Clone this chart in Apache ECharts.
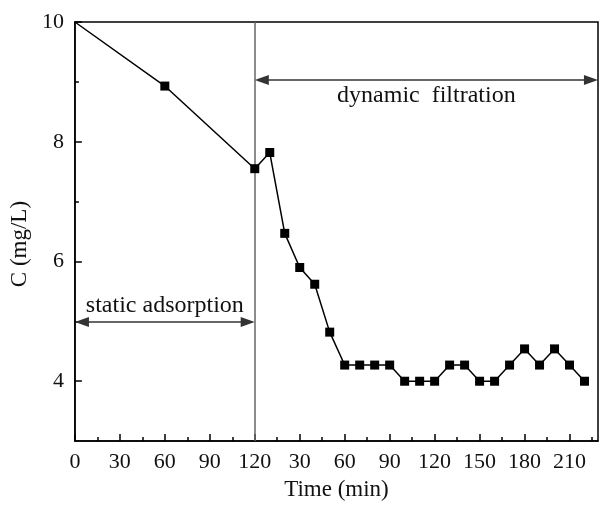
<!DOCTYPE html>
<html>
<head>
<meta charset="utf-8">
<script src="https://cdn.jsdelivr.net/npm/echarts@6/dist/echarts.min.js"></script>
<style>
  html, body { margin: 0; padding: 0; background: #fff; }
  #chart { width: 600px; height: 506px; }
</style>
</head>
<body>
<div id="chart"></div>
<script>
// Static adsorption stage (time in min from start)
const staticTime = [0, 60, 120];
const staticConc = [10.0, 8.93, 7.55];

// Dynamic filtration stage (time in min from start of filtration)
const dynamicTime = [0, 10, 20, 30, 40, 50, 60, 70, 80, 90, 100, 110, 120,
                     130, 140, 150, 160, 170, 180, 190, 200, 210, 220];
const dynamicConc = [7.55, 7.82, 6.47, 5.90, 5.62, 4.82, 4.27, 4.27, 4.27, 4.27,
                     4.00, 4.00, 4.00, 4.27, 4.27, 4.00, 4.00, 4.27, 4.54, 4.27,
                     4.54, 4.27, 4.00];

// Time-axis tick labels (every 30 min on the combined axis)
const xTickLabels = ['0', '30', '60', '90', '120', '30', '60', '90', '120', '150', '180', '210'];
const yTickLabels = ['4', '6', '8', '10'];

const SWITCH_TIME = 120;   // end of static stage on the combined axis
const X_MAX = 349;
const FONT = "'Liberation Serif', 'Times New Roman', serif";

// Build combined series: dynamic stage is shifted to start at the end of the static stage
const points = [];
staticTime.forEach((t, i) => {
  points.push(i === 0 ? { value: [t, staticConc[i]], symbol: 'none' } : { value: [t, staticConc[i]] });
});
dynamicTime.forEach((t, i) => {
  if (i === 0) return; // same point as the last static one
  points.push({ value: [SWITCH_TIME + t, dynamicConc[i]] });
});

const majorX = xTickLabels.map((_, i) => i * 30);
const minorX = [];
for (let v = 15; v < X_MAX; v += 30) minorX.push(v);
const majorY = yTickLabels.map(Number);
const minorY = [5, 7, 9];

const ARROW_INSET = 4.7; // keeps arrow tips on the boundary lines
const arrowStyle = { color: '#333', width: 1.5, type: 'solid' };
const annotLabel = { show: true, color: '#111', fontFamily: FONT, fontSize: 24 };

const chart = echarts.init(document.getElementById('chart'));
chart.setOption({
  animation: false,
  backgroundColor: '#fff',
  grid: {
    left: 74, right: 2, top: 22, bottom: 59,
    show: true, borderColor: '#000', borderWidth: 1.5, backgroundColor: 'transparent'
  },
  xAxis: [{
    type: 'value', min: 0, max: X_MAX, position: 'bottom',
    name: 'Time (min)', nameLocation: 'middle', nameGap: 33,
    nameTextStyle: { fontFamily: FONT, fontSize: 23, color: '#111' },
    axisLine: { show: true, lineStyle: { color: '#000', width: 1.5 } },
    axisTick: { show: true, inside: true, length: 7, customValues: majorX, lineStyle: { color: '#000', width: 1.5 } },
    axisLabel: {
      customValues: majorX, margin: 10,
      fontFamily: FONT, fontSize: 22, color: '#111',
      formatter: v => xTickLabels[Math.round(v / 30)]
    },
    splitLine: { show: false }
  }, {
    type: 'value', min: 0, max: X_MAX, position: 'bottom',
    axisLine: { show: false },
    axisTick: { show: true, inside: true, length: 4, customValues: minorX, lineStyle: { color: '#000', width: 1.5 } },
    axisLabel: { show: false },
    splitLine: { show: false }
  }],
  yAxis: [{
    type: 'value', min: 3, max: 10, position: 'left',
    name: 'C (mg/L)', nameLocation: 'middle', nameGap: 42, nameRotate: 90,
    nameTextStyle: { fontFamily: FONT, fontSize: 23, color: '#111', padding: [0, 25, 0, 0] },
    axisLine: { show: true, lineStyle: { color: '#000', width: 1.5 } },
    axisTick: { show: true, inside: true, length: 7, customValues: majorY, lineStyle: { color: '#000', width: 1.5 } },
    axisLabel: {
      customValues: majorY, margin: 11,
      fontFamily: FONT, fontSize: 22, color: '#111'
    },
    splitLine: { show: false }
  }, {
    type: 'value', min: 3, max: 10, position: 'left',
    axisLine: { show: false },
    axisTick: { show: true, inside: true, length: 4, customValues: minorY, lineStyle: { color: '#000', width: 1.5 } },
    axisLabel: { show: false },
    splitLine: { show: false }
  }],
  series: [{
    type: 'line',
    data: points,
    symbol: 'rect',
    symbolSize: 9,
    lineStyle: { color: '#000', width: 1.5 },
    itemStyle: { color: '#000' },
    z: 5
  }, {
    // boundary between the two stages
    type: 'line', data: [], silent: true,
    markLine: {
      silent: true, symbol: 'none',
      lineStyle: { color: '#666', width: 1.5, type: 'solid' },
      label: { show: false },
      data: [{ xAxis: SWITCH_TIME }]
    }
  }, {
    // stage annotations
    type: 'line', data: [], silent: true,
    markLine: {
      silent: true,
      symbol: ['triangle', 'triangle'],
      symbolSize: [10, 14],
      lineStyle: arrowStyle,
      data: [
        [
          { coord: [ARROW_INSET, 4.99], itemStyle: { color: '#000' } },
          { coord: [SWITCH_TIME - ARROW_INSET, 4.99], itemStyle: { color: '#000' },
            label: Object.assign({}, annotLabel, { formatter: 'static adsorption', position: 'insideMiddleTop', distance: 4 }) }
        ],
        [
          { coord: [SWITCH_TIME + ARROW_INSET, 9.03], itemStyle: { color: '#000' } },
          { coord: [X_MAX - ARROW_INSET, 9.03], itemStyle: { color: '#000' },
            label: Object.assign({}, annotLabel, { formatter: 'dynamic  filtration', position: 'insideMiddleBottom', distance: 4 }) }
        ]
      ]
    }
  }]
});
</script>
</body>
</html>
